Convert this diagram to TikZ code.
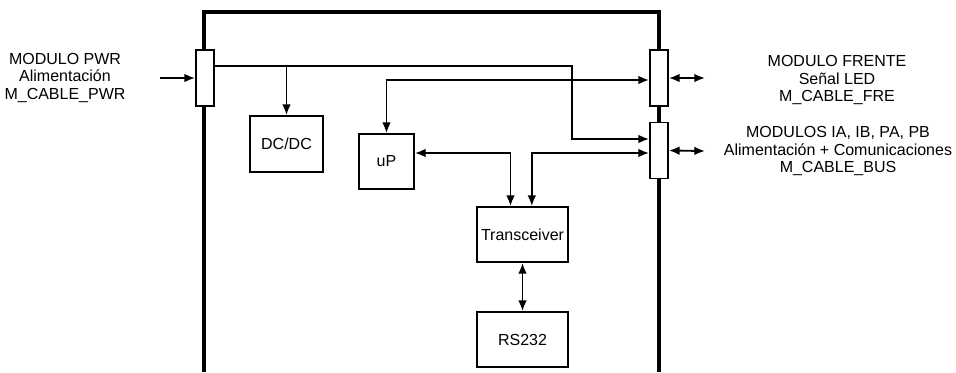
\documentclass[tikz,border=0pt]{standalone}
\usepackage{fontspec}
\setmainfont{Liberation Sans}
\usepackage{tikz}
\usetikzlibrary{arrows.meta}

\begin{document}
\begin{tikzpicture}[x=0.75pt,y=0.75pt,yscale=-1,xscale=1,
    wire/.style={line width=1.4pt,-{Latex[length=8pt,width=6.5pt]}},
    both/.style={line width=1.4pt,{Latex[length=8pt,width=6.5pt]}-{Latex[length=8pt,width=6.5pt]}},
    blk/.style={draw,line width=1.4pt,fill=white,inner sep=0pt,font=\fontsize{12}{13}\selectfont},
    conn/.style={draw,line width=1.4pt,fill=white,inner sep=0pt,minimum width=13.5pt,minimum height=42pt},
    lbl/.style={align=center,inner sep=0.75pt,font=\fontsize{12}{12.8}\selectfont}]
    \useasboundingbox (0,0) rectangle (956,372);

    %Shape: Frame (open at the bottom)
    \draw[line width=2.6pt] (204,372) -- (204,12) -- (659,12) -- (659,372);

    %Connectors
    \node[conn] (pwr) at (205,78) {};
    \node[conn] (fre) at (659,78) {};
    \node[conn] (bus) at (659,150.5) {};

    %Blocks
    \node[blk,minimum width=54.75pt,minimum height=42pt] (dcdc) at (286.5,144) {DC/DC};
    \node[blk,minimum width=41.25pt,minimum height=41.25pt] (up) at (386.5,161.5) {uP};
    \node[blk,minimum width=68.25pt,minimum height=41.25pt] (trx) at (522.5,234.5) {Transceiver};
    \node[blk,minimum width=68.25pt,minimum height=41.25pt] (rs) at (522.5,339.5) {RS232};

    %Free ends outside the frame
    \coordinate (pwrin) at (160,78);
    \coordinate (freout) at (705,78);
    \coordinate (busout) at (705,151);

    %Power line
    \draw[wire] (pwrin) -- (pwr.west);
    \draw[wire] (pwr.east |- 0,66) -| (572,139) -- (bus.west |- 0,139);
    \draw[wire] (dcdc.north |- 0,66) -- (dcdc.north);

    %Signals
    \draw[both] (up.north) |- (fre.west |- 0,80);
    \draw[both] (up.east |- 0,153) -| ([xshift=-9pt]trx.north);
    \draw[both] ([xshift=7pt]trx.north) |- (bus.west |- 0,153);
    \draw[both] (trx.south) -- (rs.north);
    \draw[both] (fre.east) -- (freout);
    \draw[both] (bus.east) -- (busout);

    % Text Node
    \node[lbl] (pwrlbl) at (65,78) {MODULO PWR\\Alimentación\\M\_CABLE\_PWR};
    % Text Node
    \node[lbl] (frelbl) at (837,80) {MODULO FRENTE\\Señal LED\\M\_CABLE\_FRE};
    % Text Node
    \node[lbl] (buslbl) at (838,151) {MODULOS IA, IB, PA, PB\\Alimentación + Comunicaciones\\M\_CABLE\_BUS};

\end{tikzpicture}
\end{document}
